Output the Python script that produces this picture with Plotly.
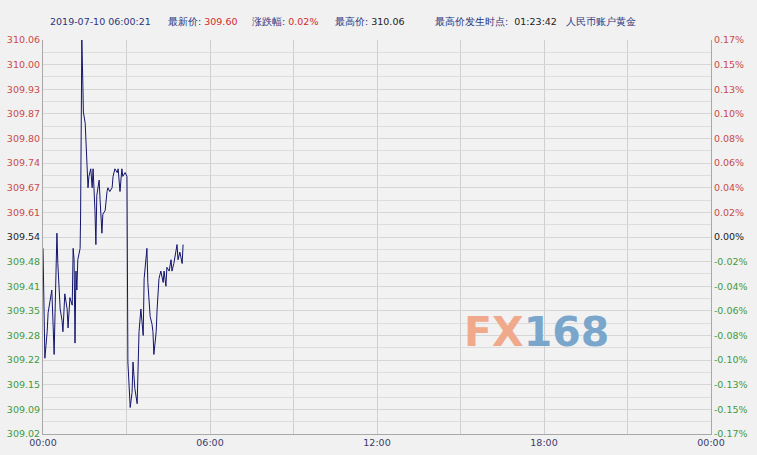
import plotly.graph_objects as go
import numpy as np

# ---- data ----
times = ["00:00", "00:04", "00:09", "00:11", "00:15", "00:19", "00:22", "00:24", "00:26", "00:30",
         "00:32", "00:37", "00:41", "00:43", "00:47", "00:52", "00:54", "00:58", "01:03", "01:05",
         "01:07", "01:09", "01:11", "01:13", "01:15", "01:20", "01:21", "01:23:42", "01:26", "01:27",
         "01:31", "01:33", "01:35", "01:36", "01:37", "01:39", "01:43", "01:46", "01:48", "01:52",
         "01:54", "01:56", "02:01", "02:03", "02:07", "02:09", "02:14", "02:18", "02:20", "02:24",
         "02:29", "02:31", "02:35", "02:40", "02:42", "02:46", "02:50", "02:52", "02:57", "03:01",
         "03:02", "03:03", "03:08", "03:12", "03:14", "03:18", "03:23", "03:25", "03:27", "03:31",
         "03:36", "03:38", "03:42", "03:44", "03:46", "03:51", "03:55", "03:57", "03:59", "04:04",
         "04:06", "04:10", "04:14", "04:19", "04:21", "04:25", "04:27", "04:32", "04:36", "04:38",
         "04:42", "04:47", "04:49", "04:51", "04:55", "05:00", "05:02"]
prices = [309.51, 309.22, 309.29, 309.34, 309.37, 309.40, 309.30, 309.23, 309.34, 309.55,
          309.47, 309.35, 309.32, 309.29, 309.39, 309.35, 309.30, 309.38, 309.36, 309.51,
          309.48, 309.26, 309.45, 309.40, 309.48, 309.51, 309.59, 310.06, 309.94, 309.87,
          309.84, 309.78, 309.74, 309.71, 309.67, 309.70, 309.72, 309.67, 309.72, 309.61,
          309.52, 309.65, 309.69, 309.64, 309.55, 309.60, 309.61, 309.66, 309.67, 309.66,
          309.67, 309.70, 309.72, 309.71, 309.72, 309.66, 309.72, 309.70, 309.71, 309.70,
          309.35, 309.21, 309.09, 309.13, 309.21, 309.14, 309.10, 309.21, 309.29, 309.35,
          309.28, 309.43, 309.49, 309.51, 309.42, 309.33, 309.31, 309.29, 309.23, 309.29,
          309.35, 309.43, 309.45, 309.42, 309.45, 309.41, 309.46, 309.45, 309.48, 309.45,
          309.47, 309.51, 309.52, 309.48, 309.50, 309.47, 309.52]

y_labels = ["310.06", "310.00", "309.93", "309.87", "309.80", "309.74", "309.67", "309.61", "309.54",
            "309.48", "309.41", "309.35", "309.28", "309.22", "309.15", "309.09", "309.02"]
pct_labels = ["0.17%", "0.15%", "0.13%", "0.10%", "0.08%", "0.06%", "0.04%", "0.02%", "0.00%",
              "-0.02%", "-0.04%", "-0.06%", "-0.08%", "-0.10%", "-0.13%", "-0.15%", "-0.17%"]
y_low, y_high = 309.02, 310.06
day = "2019-07-10"
header_date = "2019-07-10 06:00:21"
last_price = "309.60"
change_pct = "0.02%"
high_price = "310.06"
high_time = "01:23:42"
product = "人民币账户黄金"

# ---- styles ----
RED = "#c94a4a"
GREEN = "#3f9a3f"
NAVY = "#2a3580"
VRED = "#d42a2a"
FONT = "DejaVu Sans"

def color_for(i, n):
    mid = n // 2
    if i < mid:
        return RED
    if i > mid:
        return GREEN
    return "#222222"

n = len(y_labels)
tickvals = list(np.linspace(y_high, y_low, n))
midvals = [(a + b) / 2 for a, b in zip(tickvals[:-1], tickvals[1:])]
left_text = ['<span style="color:%s">%s</span>' % (color_for(i, n), t) for i, t in enumerate(y_labels)]
right_text = ['<span style="color:%s">%s</span>' % (color_for(i, n), t) for i, t in enumerate(pct_labels)]

x = [day + " " + (t if t.count(":") == 2 else t + ":00") for t in times]

fig = go.Figure()
fig.add_trace(go.Scatter(x=x, y=prices, mode="lines", line=dict(color="#14146e", width=1),
                         hoverinfo="skip", showlegend=False))
fig.add_trace(go.Scatter(x=x, y=prices, mode="lines", line=dict(color="rgba(0,0,0,0)", width=0),
                         yaxis="y2", hoverinfo="skip", showlegend=False))

grid = "#d6d6d6"
yaxis_common = dict(
    range=[y_low, y_high], tickmode="array", tickvals=tickvals, ticks="",
    showgrid=True, gridcolor=grid, gridwidth=1, zeroline=False,
    tickfont=dict(family=FONT, size=9.5),
    showline=True, linecolor="#a8a8a8", linewidth=1,
    minor=dict(tickmode="array", tickvals=midvals, showgrid=True, gridcolor="#dddddd", ticks=""),
)

fig.update_layout(
    width=757, height=455,
    margin=dict(l=43, r=46, t=40, b=21, autoexpand=False),
    paper_bgcolor="#f1f1f1", plot_bgcolor="#f2f2f2",
    font=dict(family=FONT, size=9.5, color="#333"),
    xaxis=dict(
        type="date",
        range=[day + " 00:00:00", "2019-07-11 00:00:00"],
        tick0=day + " 00:00:00", dtick=6 * 3600 * 1000, tickformat="%H:%M",
        ticks="", showgrid=True, gridcolor="#cfcfcf", zeroline=False,
        showline=True, linecolor="#a8a8a8", linewidth=1,
        tickfont=dict(family=FONT, size=9.5, color="#3a3a6a"),
        minor=dict(dtick=3 * 3600 * 1000, showgrid=True, gridcolor="#cfcfcf", ticks=""),
    ),
    yaxis=dict(ticktext=left_text, side="left", **yaxis_common),
    yaxis2=dict(ticktext=right_text, side="right", overlaying="y", **yaxis_common),
)

def pos_x(px):
    return (px - 43) / 668.0

def pos_y(py):
    return (434 - py) / 394.0

header_items = [
    (48, '<span style="color:%s">%s</span>' % (NAVY, header_date)),
    (166, '<span style="color:%s">最新价: </span><span style="color:%s">%s</span>' % (NAVY, VRED, last_price)),
    (250, '<span style="color:%s">涨跌幅: </span><span style="color:%s">%s</span>' % (NAVY, VRED, change_pct)),
    (333, '<span style="color:%s">最高价: </span><span style="color:#222222">%s</span>' % (NAVY, high_price)),
    (433, '<span style="color:%s">最高价发生时点:  </span><span style="color:#222222">%s</span>' % (NAVY, high_time)),
    (564, '<span style="color:%s">%s</span>' % (NAVY, product)),
]
for px, txt in header_items:
    fig.add_annotation(xref="paper", yref="paper", x=pos_x(px), y=pos_y(22),
                       xanchor="left", yanchor="middle", showarrow=False,
                       text=txt, font=dict(family=FONT, size=9.5))

fig.add_annotation(xref="paper", yref="paper", x=pos_x(536), y=pos_y(332),
                   xanchor="center", yanchor="middle", showarrow=False,
                   text='<b><span style="color:#f0a98a">FX</span><span style="color:#7aa6cc">168</span></b>',
                   font=dict(family=FONT, size=41))

fig.write_html("out.html", config={"displayModeBar": False},
               post_script="document.body.style.margin='0';")
